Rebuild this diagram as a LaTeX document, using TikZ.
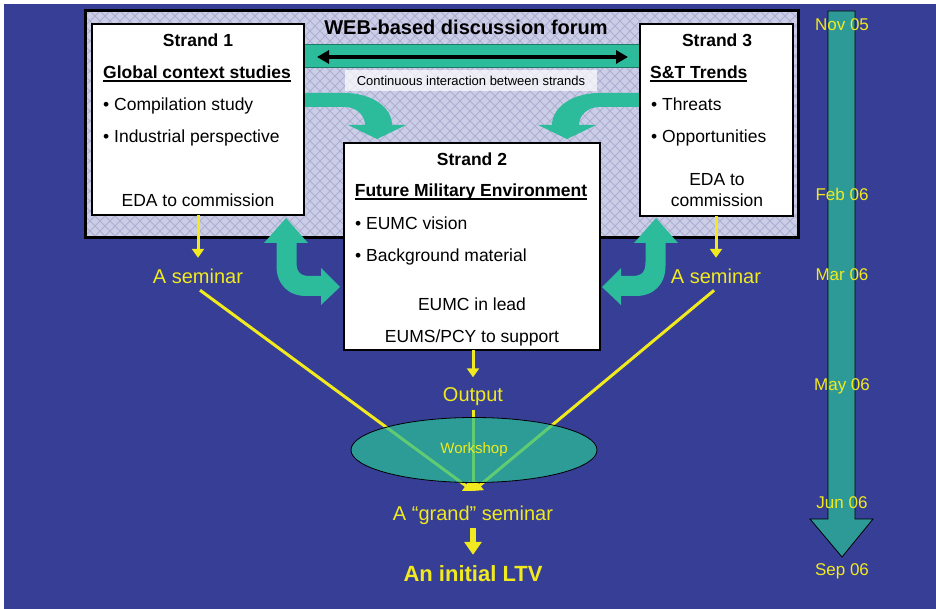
\documentclass[tikz,border=0pt]{standalone}
\usepackage{fontspec}
\setmainfont{Liberation Sans}
\usetikzlibrary{arrows.meta,shapes.geometric}

\definecolor{bgblue}{RGB}{54,62,150}
\definecolor{hatchbg}{RGB}{204,205,230}
\definecolor{hatchln}{RGB}{172,174,210}
\definecolor{band}{RGB}{44,188,155}
\definecolor{timeteal}{RGB}{46,154,152}
\definecolor{wsfill}{RGB}{42,192,150}
\definecolor{yel}{RGB}{240,234,30}

% underline at a fixed distance below the baseline
\newcommand\myul[1]{\setbox0\hbox{#1}\rlap{\rule[-2.8pt]{\wd0}{1.5pt}}\box0}

\begin{document}
\begin{tikzpicture}[x=1pt,y=-1pt,
  strandbox/.style={draw=black, line width=2.5pt, fill=white, inner sep=0pt, outer sep=0pt},
  btxt/.style={font=\fontsize{17.5}{20}\selectfont, anchor=base, inner sep=0pt},
  btitle/.style={font=\fontsize{17.5}{20}\selectfont\bfseries, anchor=base, inner sep=0pt},
  bleft/.style={btxt, anchor=base west},
  ylab/.style={text=yel, font=\fontsize{20}{22}\selectfont, inner sep=0pt, text height=14.5pt, text depth=4.5pt, anchor=base},
  datelab/.style={text=yel, font=\fontsize{17}{19}\selectfont, inner sep=0pt},
  yline/.style={draw=yel, line width=3pt},
  ytip/.style={-{Triangle[length=9pt,width=12pt]}},
  hatchline/.style={draw=hatchln, line width=0.8pt}
]
\useasboundingbox (0,0) rectangle (936,609);
\fill[white] (0,0) rectangle (936,609);
\fill[bgblue] (4,4) rectangle (936,609);

% forum panel with diamond hatching
\begin{scope}
  \clip (85,11) rectangle (798,238);
  \fill[hatchbg] (85,11) rectangle (798,238);
  \foreach \i in {-150,-140,...,1040} {
    \draw[hatchline] (\i,11) -- ++(227,227);
    \draw[hatchline] (\i,11) -- ++(-227,227);
  }
\end{scope}
\draw[line width=3pt] (85,11) rectangle (798,238);

% timeline arrow
\filldraw[fill=timeteal, draw=black, line width=0.8pt]
  (828,11) -- (855,11) -- (855,519) -- (873,519) -- (842,557) -- (810,519) -- (828,519) -- cycle;

% interaction band between strands 1 and 3
\filldraw[fill=band, draw=band!65!black, line width=1pt] (300,45) rectangle (644,68);

% curved arrows from strands 1 and 3 down into strand 2
\fill[band] (300,93) -- (345,93) .. controls (371,93) and (392,107) .. (392,125)
  -- (406,125) -- (377,139) -- (348,125) -- (365,125)
  .. controls (365,115) and (356,107) .. (345,107) -- (300,107) -- cycle;
\begin{scope}[xshift=944pt, xscale=-1]
\fill[band] (300,93) -- (345,93) .. controls (371,93) and (392,107) .. (392,125)
  -- (406,125) -- (377,139) -- (348,125) -- (365,125)
  .. controls (365,115) and (356,107) .. (345,107) -- (300,107) -- cycle;
\end{scope}

% two-way bent arrows between the outer strands and strand 2
\fill[band] (264,243) -- (286,218) -- (308,243) -- (296.5,243) -- (296.5,262)
  .. controls (296.5,272) and (300,276) .. (310,276) -- (321,276) -- (321,268)
  -- (340,287) -- (321,305) -- (321,296) -- (306,296)
  .. controls (288,296) and (276.5,284) .. (276.5,266) -- (276.5,243) -- cycle;
\begin{scope}[xshift=942pt, xscale=-1]
\fill[band] (264,243) -- (286,218) -- (308,243) -- (296.5,243) -- (296.5,262)
  .. controls (296.5,272) and (300,276) .. (310,276) -- (321,276) -- (321,268)
  -- (340,287) -- (321,305) -- (321,296) -- (306,296)
  .. controls (288,296) and (276.5,284) .. (276.5,266) -- (276.5,243) -- cycle;
\end{scope}

% strand boxes
\node[strandbox, minimum width=212pt, minimum height=191pt] (s1) at (198,119.5) {};
\node[strandbox, minimum width=153pt, minimum height=192pt] (s3) at (716.5,120) {};
\node[strandbox, minimum width=256pt, minimum height=207pt] (s2) at (472,246.5) {};

% forum title and interaction label
\node[font=\fontsize{20}{22}\selectfont\bfseries, anchor=base, inner sep=0pt] (web) at (466,35) {WEB-based discussion forum};
\draw[line width=4pt, {Triangle[length=12pt,width=13pt]}-{Triangle[length=12pt,width=13pt]},
  shorten <=13pt, shorten >=12pt] (s1.east |- 0,57) -- (s3.west |- 0,57);
\node[fill=white, fill opacity=0.7, text opacity=1, font=\fontsize{13}{15}\selectfont,
  minimum width=252pt, minimum height=21pt, inner sep=0pt] (cont) at (471,80.5) {Continuous interaction between strands};

% strand 1
\node[btitle] (s1t) at (198,47) {Strand 1};
\node[btitle] (s1h) at (197,79) {\myul{Global context studies}};
\node[bleft] (s1a) at (103,111) {• Compilation study};
\node[bleft] (s1b) at (103,143) {• Industrial perspective};
\node[btxt] (s1c) at (198,207) {EDA to commission};

% strand 2
\node[btitle] (s2t) at (472,166) {Strand 2};
\node[btitle] (s2h) at (471,197) {\myul{Future Military Environment}};
\node[bleft] (s2a) at (355,230) {• EUMC vision};
\node[bleft] (s2b) at (355,262) {• Background material};
\node[btxt] (s2c) at (472,310) {EUMC in lead};
\node[btxt] (s2d) at (472,342) {EUMS/PCY to support};

% strand 3
\node[btitle] (s3t) at (717,47) {Strand 3};
\node[btitle, anchor=base west] (s3h) at (650,79) {\myul{S\&T Trends}};
\node[bleft] (s3a) at (651,111) {• Threats};
\node[bleft] (s3b) at (651,143) {• Opportunities};
\node[btxt] (s3c) at (717,186) {EDA to};
\node[btxt] (s3d) at (717,207) {commission};

% seminars and outputs
\node[ylab] (sem1) at (198,284) {A seminar};
\node[ylab] (sem3) at (716,284) {A seminar};
\node[ylab] (out) at (473,401) {Output};
\node[ylab] (grand) at (473,520) {A “grand” seminar};
\node[text=yel, font=\fontsize{22}{24}\selectfont\bfseries, inner sep=0pt, text height=16pt, text depth=0pt, anchor=base] (ltv) at (473,581) {An initial LTV};
\coordinate (conv) at (473,491);

\draw[yline, ytip, shorten >=11.5pt] (s1.south) -- (sem1.north);
\draw[yline, ytip, shorten >=11.5pt] (s3.south -| sem3) -- (sem3.north);
\draw[yline, ytip, shorten >=9pt] (s2.south -| out) -- (out.north);
\draw[yline, ytip, shorten <=2.5pt] (sem1.south) -- (conv);
\draw[yline, ytip, shorten <=2.5pt] (sem3.south) -- (conv);
\draw[yline, ytip, shorten <=4.5pt] (out.south) -- (conv);

% workshop
\node[ellipse, draw=black, line width=0.8pt, fill=wsfill, fill opacity=0.72, text opacity=1,
  minimum width=246pt, minimum height=65pt, inner sep=0pt, text=yel,
  font=\fontsize{15}{17}\selectfont] (ws) at (474,450) {Workshop};

\draw[yel, line width=6pt, -{Triangle[length=13pt,width=17pt]}, shorten <=3.5pt, shorten >=10pt]
  (grand.south) -- (ltv.north);

% timeline dates
\node[datelab] (d1) at (842,25) {Nov 05};
\node[datelab] (d2) at (842,194) {Feb 06};
\node[datelab] (d3) at (842,275) {Mar 06};
\node[datelab] (d4) at (842,386) {May 06};
\node[datelab] (d5) at (842,503) {Jun 06};
\node[datelab] (d6) at (842,571) {Sep 06};
\end{tikzpicture}
\end{document}
